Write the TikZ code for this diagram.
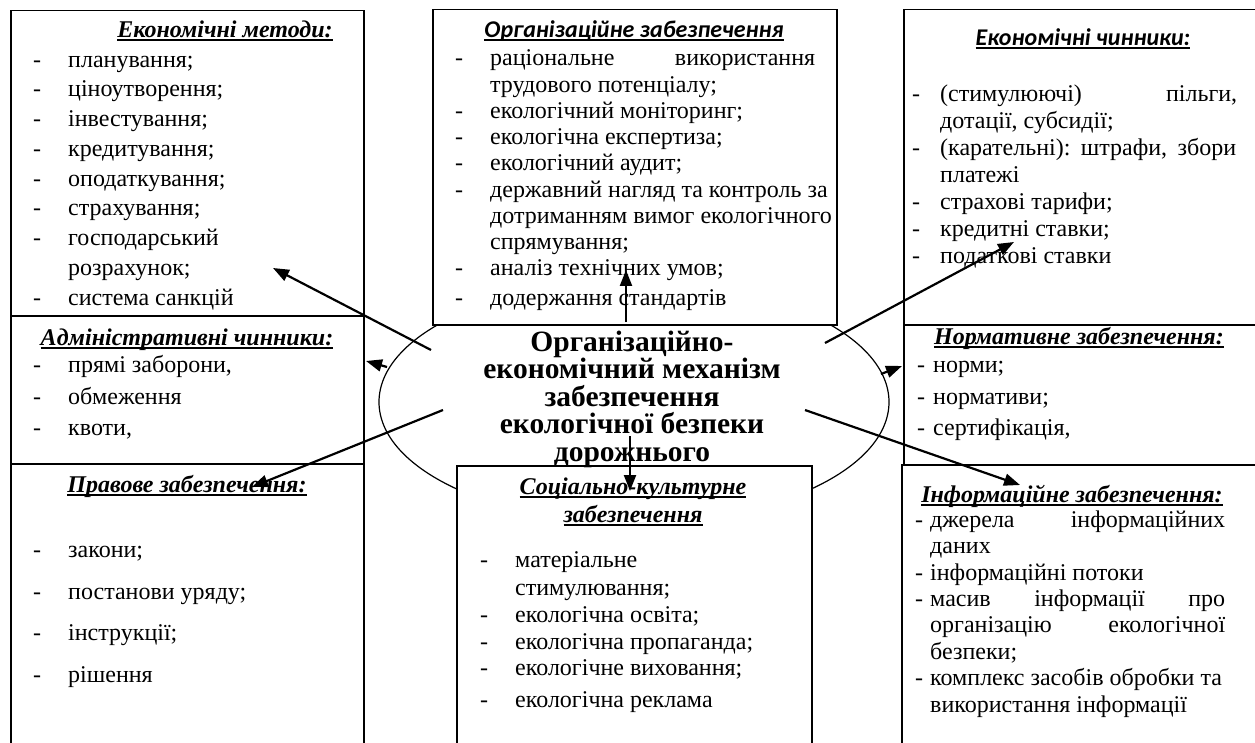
\documentclass[tikz,border=0pt]{standalone}
\usepackage{fontspec}
\setmainfont{Liberation Serif}
\newfontfamily\calibrifont{Carlito}
\usetikzlibrary{arrows.meta}
\usetikzlibrary{shapes.geometric}
\newcommand\headul[1]{\sbox0{#1}\rlap{\rule[-3.5pt]{\wd0}{1.6pt}}\usebox0}
\tikzset{panel/.style = {draw, line width = 1.5pt, fill = white, anchor = north west, inner sep = 0}}
\tikzset{entry/.style = {anchor = mid west, inner sep = 0, font = \fontsize{24}{28}\selectfont}}
\tikzset{heading/.style = {anchor = mid, inner sep = 0, font = \fontsize{24}{28}\selectfont\bfseries\itshape}}
\tikzset{sansheading/.style = {anchor = mid, inner sep = 0, font = \fontsize{24}{28}\selectfont\calibrifont\bfseries\itshape}}
\tikzset{conn/.style = {line width = 2.2pt, -{Triangle[length = 16pt, width = 12pt]}}}

\begin{document}
\begin{tikzpicture}[x = 1pt, y = -1pt]
      \useasboundingbox (0, 0) rectangle (1255, 743);
      \clip (0, 0) rectangle (1255, 743);
      % centre
      \node [ellipse, draw, line width = 1.2pt, minimum width = 510pt, minimum height = 242pt, inner sep = 0] (mech) at (634, 402) {};
      % boxes
      \node [panel, minimum width = 353pt, minimum height = 305pt] (em) at (10, 10) {};
      \node [panel, minimum width = 353pt, minimum height = 148pt] (adm) at (10, 315) {};
      \node [panel, minimum width = 353pt, minimum height = 300pt] (law) at (10, 463) {};
      \node [panel, minimum width = 404pt, minimum height = 315pt] (org) at (432, 9) {};
      \node [panel, minimum width = 355pt, minimum height = 300pt] (soc) at (456, 465) {};
      \node [panel, minimum width = 370pt, minimum height = 315pt] (ecf) at (903, 9) {};
      \node [panel, minimum width = 370pt, minimum height = 140pt] (norm) at (903, 324) {};
      \node [panel, minimum width = 372pt, minimum height = 300pt] (info) at (901, 464) {};
      \node [align = center, inner sep = 0, font = \fontsize{29.5}{27.5}\selectfont\bfseries] (mechtext) at (632, 399)
        {Організаційно-\\економічний механізм\\забезпечення\\екологічної безпеки\\дорожнього};
      % economic methods
      \node [heading] (em-h) at (225, 35) {\headul{Економічні методи:}};
      \foreach \dsh/\txt [count = \i] in {-/планування;, -/ціноутворення;, -/інвестування;, -/кредитування;,
          -/оподаткування;, -/страхування;, -/господарський, /розрахунок;, -/система санкцій} {
        \node [entry] (em-d\i) at (33, 35 + 29.75*\i) {\dsh};
        \node [entry] (em-t\i) at (68, 35 + 29.75*\i) {\txt};
      }
      % administrative
      \node [heading] (adm-h) at (187, 343) {\headul{Адміністративні чинники:}};
      \foreach \y/\txt [count = \i] in {370/{прямі заборони,}, 402/обмеження, 433/{квоти,}} {
        \node [entry] (adm-d\i) at (33, \y) {-};
        \node [entry] (adm-t\i) at (68, \y) {\txt};
      }
      % legal
      \node [heading] (law-h) at (187, 490) {\headul{Правове забезпечення:}};
      \foreach \y/\txt [count = \i] in {555/закони;, 597/постанови уряду;, 638/інструкції;, 680/рішення} {
        \node [entry] (law-d\i) at (33, \y) {-};
        \node [entry] (law-t\i) at (68, \y) {\txt};
      }
      % organisational
      \node [sansheading] (org-h) at (634, 35) {\headul{Організаційне забезпечення}};
      \foreach \y/\dsh/\txt [count = \i] in {63/-/{\makebox[325pt][l]{раціональне\hfill використання}},
          90//трудового потенціалу;, 116/-/екологічний моніторинг;, 142/-/екологічна експертиза;,
          168/-/екологічний аудит;, 195/-/державний нагляд та контроль за, 221//дотриманням вимог екологічного,
          247//спрямування;, 273/-/аналіз технічних умов;, 303/-/додержання стандартів} {
        \node [entry] (org-d\i) at (455, \y) {\dsh};
        \node [entry] (org-t\i) at (490, \y) {\txt};
      }
      % social
      \node [heading] (soc-h1) at (633, 492) {\headul{Соціально-культурне}};
      \node [heading] (soc-h2) at (633, 520) {\headul{забезпечення}};
      \foreach \y/\dsh/\txt [count = \i] in {565/-/матеріальне, 593//стимулювання;, 620/-/екологічна освіта;,
          647/-/екологічна пропаганда;, 673/-/екологічне виховання;, 705/-/екологічна реклама} {
        \node [entry] (soc-d\i) at (480, \y) {\dsh};
        \node [entry] (soc-t\i) at (515, \y) {\txt};
      }
      % economic factors
      \node [sansheading] (ecf-h) at (1083, 43) {\headul{Економічні чинники:}};
      \foreach \y/\dsh/\txt [count = \i] in {99/-/{\makebox[297pt][l]{(стимулюючі)\hfill пільги,}},
          126//{дотації, субсидії;}, 153/-/{\makebox[296pt][l]{(карательні):\hfill штрафи,\hfill збори}},
          180//платежі, 207/-/страхові тарифи;, 234/-/кредитні ставки;, 261/-/податкові ставки} {
        \node [entry] (ecf-d\i) at (912, \y) {\dsh};
        \node [entry] (ecf-t\i) at (940, \y) {\txt};
      }
      % normative
      \node [heading] (norm-h) at (1079, 342) {\headul{Нормативне забезпечення:}};
      \foreach \y/\txt [count = \i] in {370/норми;, 402/нормативи;, 433/{сертифікація,}} {
        \node [entry] (norm-d\i) at (917, \y) {-};
        \node [entry] (norm-t\i) at (933, \y) {\txt};
      }
      % information
      \node [heading] (info-h) at (1072, 500) {\headul{Інформаційне забезпечення:}};
      \foreach \y/\dsh/\txt [count = \i] in {525/-/{\makebox[295pt][l]{джерела\hfill інформаційних}}, 551//даних,
          578/-/інформаційні потоки, 604/-/{\makebox[295pt][l]{масив\hfill інформації\hfill про}},
          630//{\makebox[295pt][l]{організацію\hfill екологічної}}, 657//безпеки;,
          683/-/комплекс засобів обробки та, 710//використання інформації} {
        \node [entry] (info-d\i) at (915, \y) {\dsh};
        \node [entry] (info-t\i) at (930, \y) {\txt};
      }
      % arrows
      \coordinate (s-em) at (431, 350);   \coordinate (t-em) at (273, 268);
      \coordinate (s-adm) at (387, 367);  \coordinate (t-adm) at (366, 361);
      \coordinate (s-law) at (443, 410);  \coordinate (t-law) at (252, 487);
      \coordinate (s-org) at (626, 322);  \coordinate (t-org) at (626, 270);
      \coordinate (s-soc) at (630, 436);  \coordinate (t-soc) at (630, 491);
      \coordinate (s-ecf) at (825, 343);  \coordinate (t-ecf) at (1014, 242);
      \coordinate (s-norm) at (881, 374); \coordinate (t-norm) at (902, 366);
      \coordinate (s-info) at (805, 410); \coordinate (t-info) at (1020, 485);
      \foreach \n in {em, adm, law, org, soc, ecf, norm, info}
        \draw [conn] (s-\n) -- (t-\n);
\end{tikzpicture}
\end{document}
